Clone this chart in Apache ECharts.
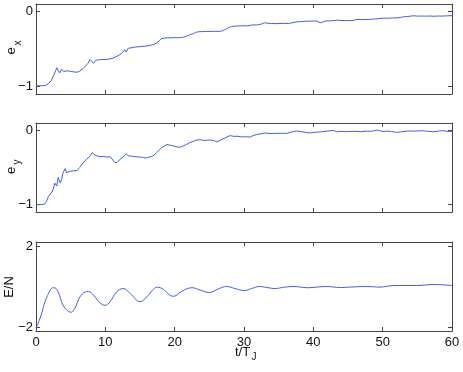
<!DOCTYPE html>
<html>
<head>
<meta charset="utf-8">
<script src="https://cdn.jsdelivr.net/npm/echarts@6/dist/echarts.min.js"></script>
<style>
  html, body { margin: 0; padding: 0; background: #fff; }
  #chart { width: 463px; height: 372px; }
</style>
</head>
<body>
<div id="chart"></div>
<script>
// ── data ──
const xTicks = [0, 10, 20, 30, 40, 50, 60];

const exT = [0, 0.5, 1, 1.4, 1.8, 2.2, 2.6, 3.0, 3.2, 3.4, 3.7, 4.0, 4.5, 5.0, 5.5, 5.9, 6.3, 6.8, 7.2, 7.5,
  7.8, 8.0, 8.3, 8.6, 9.0, 9.5, 10.0, 10.5, 11.0, 11.4, 11.8, 12.1, 12.5, 12.8, 13.0, 13.3, 13.7, 14.2, 14.8, 15.4,
  16.0, 16.5, 17.0, 17.4, 17.8, 18.1, 18.5, 19.0, 19.5, 20.0, 20.5, 21.0, 21.3, 21.7, 22.2, 22.7, 23.0, 23.4, 24.0, 24.6,
  25.2, 25.8, 26.4, 26.8, 27.2, 27.5, 27.9, 28.2, 28.7, 29.4, 30.0, 30.5, 30.9, 31.3, 31.8, 32.3, 32.7, 33.0, 33.5, 34.0,
  34.6, 35.2, 35.8, 36.4, 36.9, 37.6, 38.2, 38.8, 39.5, 40.0, 40.5, 41.0, 41.4, 41.7, 42.3, 43.0, 43.4, 44.0, 44.6, 45.2,
  45.7, 46.3, 47.0, 47.6, 48.2, 48.8, 49.4, 50.1, 50.7, 51.4, 52.1, 52.6, 53.0, 53.5, 54.0, 54.5, 55.0, 55.6, 56.2, 56.8,
  57.4, 58.0, 58.6, 59.2, 60.0];
const exV = [-0.99, -0.99, -0.99, -0.985, -0.96, -0.92, -0.84, -0.75, -0.77, -0.82, -0.77, -0.80, -0.79, -0.80, -0.805, -0.81, -0.795, -0.76, -0.72, -0.69,
  -0.64, -0.66, -0.69, -0.65, -0.645, -0.64, -0.64, -0.635, -0.625, -0.61, -0.59, -0.575, -0.545, -0.51, -0.54, -0.49, -0.485, -0.475, -0.47, -0.465,
  -0.46, -0.45, -0.44, -0.42, -0.39, -0.36, -0.355, -0.35, -0.352, -0.348, -0.35, -0.345, -0.34, -0.33, -0.31, -0.295, -0.28, -0.27, -0.268, -0.265,
  -0.266, -0.264, -0.265, -0.26, -0.245, -0.23, -0.21, -0.2, -0.195, -0.192, -0.19, -0.192, -0.185, -0.177, -0.18, -0.172, -0.16, -0.15, -0.158, -0.16,
  -0.162, -0.16, -0.158, -0.16, -0.152, -0.137, -0.135, -0.13, -0.128, -0.127, -0.128, -0.15, -0.14, -0.128, -0.125, -0.12, -0.115, -0.12, -0.12, -0.122,
  -0.12, -0.106, -0.108, -0.106, -0.105, -0.1, -0.095, -0.088, -0.09, -0.086, -0.085, -0.078, -0.07, -0.068, -0.062, -0.057, -0.062, -0.06, -0.062, -0.06,
  -0.063, -0.06, -0.061, -0.058, -0.055];

const eyT = [0, 0.6, 1.2, 1.5, 1.8, 2.0, 2.3, 2.5, 2.7, 3.0, 3.2, 3.5, 3.7, 3.9, 4.2, 4.4, 4.9, 5.4, 5.9, 6.3,
  6.8, 7.3, 7.8, 8.1, 8.5, 9.2, 9.7, 10.2, 10.7, 10.9, 11.4, 11.7, 12.0, 12.4, 13.0, 13.3, 13.8, 14.4, 15.0, 15.5,
  15.9, 16.3, 16.7, 17.0, 17.4, 17.8, 18.1, 18.5, 18.9, 19.1, 19.6, 20.2, 20.8, 21.2, 21.7, 22.2, 22.7, 23.2, 23.7, 24.1,
  24.6, 25.1, 25.6, 26.1, 26.7, 27.3, 28.0, 28.5, 29.0, 29.5, 29.9, 30.4, 30.9, 31.3, 31.8, 32.4, 33.0, 33.6, 34.2, 34.7,
  35.4, 36.2, 36.9, 37.6, 38.2, 38.8, 39.5, 40.2, 41.0, 41.8, 42.4, 42.9, 43.4, 44.0, 44.6, 45.3, 46.0, 46.8, 47.7, 48.4,
  49.2, 50.0, 50.6, 51.3, 52.0, 52.7, 53.4, 53.9, 54.6, 55.2, 55.8, 56.5, 57.3, 58.0, 58.7, 59.3, 60.0];
const eyV = [-1.0, -1.0, -0.995, -0.96, -0.89, -0.90, -0.83, -0.79, -0.71, -0.75, -0.635, -0.71, -0.66, -0.57, -0.515, -0.57, -0.55, -0.545, -0.54, -0.50,
  -0.435, -0.39, -0.347, -0.30, -0.333, -0.355, -0.35, -0.36, -0.355, -0.377, -0.435, -0.43, -0.40, -0.37, -0.315, -0.34, -0.347, -0.355, -0.36, -0.365,
  -0.373, -0.36, -0.35, -0.335, -0.30, -0.26, -0.235, -0.21, -0.19, -0.18, -0.205, -0.22, -0.227, -0.21, -0.19, -0.165, -0.147, -0.13, -0.124, -0.135,
  -0.133, -0.128, -0.135, -0.155, -0.125, -0.10, -0.07, -0.08, -0.078, -0.085, -0.088, -0.085, -0.09, -0.07, -0.057, -0.045, -0.035, -0.04, -0.042, -0.04,
  -0.038, -0.04, -0.02, -0.008, -0.015, -0.025, -0.035, -0.025, -0.02, -0.012, -0.005, 0.0, -0.02, -0.012, -0.018, -0.015, -0.012, -0.018, -0.01, -0.012,
  0.005, -0.015, -0.01, -0.015, -0.027, -0.018, -0.01, -0.008, -0.01, -0.006, -0.005, -0.012, -0.018, -0.01, -0.003, -0.012, -0.012];

const enT = [0, 0.33, 0.82, 1.3, 1.8, 2.2, 2.6, 3.2, 3.9, 4.7, 5.1, 5.6, 6.35, 7.1, 7.55, 8.3, 9.2, 9.95, 10.7, 11.6,
  12.6, 13.6, 15.0, 16.0, 16.9, 17.5, 18.4, 19.3, 19.9, 21.0, 22.5, 23.7, 25.0, 26.3, 27.5, 28.7, 30.05, 31.1, 32.2, 33.3,
  34.5, 35.7, 37.2, 39.1, 40.5, 41.9, 43.9, 45.3, 47.7, 49.6, 51.6, 54.9, 57.3, 60.0];
const enV = [-2.05, -1.8, -1.32, -0.75, -0.35, -0.1, -0.06, -0.27, -0.92, -1.24, -1.27, -1.08, -0.51, -0.27, -0.25, -0.43, -0.8, -0.93, -0.75, -0.27,
  -0.1, -0.35, -0.75, -0.51, -0.15, -0.03, -0.15, -0.43, -0.48, -0.24, -0.06, -0.18, -0.3, -0.12, 0.0, -0.1, -0.2, -0.1, 0.0, -0.05,
  -0.1, -0.04, 0.0, -0.06, -0.03, 0.0, -0.05, -0.03, 0.0, -0.03, 0.05, 0.05, 0.1, 0.05];

const eTicks = [-1, 0];
const enTicks = [-2, 2];

const pairs = (t, v) => t.map((x, i) => [x, v[i]]);

const chart = echarts.init(document.getElementById('chart'));

const FONT = '"Liberation Sans", Arial, Helvetica, sans-serif';
const AXIS_COLOR = '#444';
const LINE_COLOR = '#3a5cff';

// panel boxes, pixels
const grids = [
  { left: 36, top: 4, width: 416, height: 90 },
  { left: 36, top: 123, width: 416, height: 89 },
  { left: 36, top: 242, width: 416, height: 89 },
];

const xAxes = [];
const yAxes = [];
grids.forEach((g, i) => {
  ['bottom', 'top'].forEach(pos => {
    xAxes.push({
      type: 'value', gridIndex: i, position: pos, min: 0, max: 60, interval: 10,
      axisLine: { show: true, onZero: false, lineStyle: { color: AXIS_COLOR, width: 1 } },
      axisTick: { show: true, inside: true, length: 4, lineStyle: { color: AXIS_COLOR } },
      axisLabel: { show: i === 2 && pos === 'bottom', margin: 5, fontSize: 13, color: '#111', fontFamily: FONT },
      splitLine: { show: false },
    });
  });
  const lim = i === 2 ? [-2.2, 2.2] : [-1.1, 0.1];
  const ticks = i === 2 ? enTicks : eTicks;
  ['left', 'right'].forEach(pos => {
    yAxes.push({
      type: 'value', gridIndex: i, position: pos, min: lim[0], max: lim[1],
      axisLine: { show: true, onZero: false, lineStyle: { color: AXIS_COLOR, width: 1 } },
      axisTick: { show: true, inside: true, length: 4, customValues: ticks, lineStyle: { color: AXIS_COLOR } },
      axisLabel: {
        show: pos === 'left', customValues: ticks, margin: 3, fontSize: 13, color: '#111', fontFamily: FONT,
        formatter: v => (v < 0 ? '\u2212' + Math.abs(v) : String(v)),
      },
      splitLine: { show: false },
    });
  });
});

const seriesData = [pairs(exT, exV), pairs(eyT, eyV), pairs(enT, enV)];

const txt = (x, y, text, size) => ({
  type: 'text', x, y,
  style: { text, fontSize: size, fontFamily: FONT, fill: '#111', align: 'center', verticalAlign: 'middle' },
});

chart.setOption({
  animation: false,
  grid: grids,
  xAxis: xAxes,
  yAxis: yAxes,
  series: seriesData.map((d, i) => ({
    type: 'line', xAxisIndex: i * 2, yAxisIndex: i * 2,
    data: d, showSymbol: false, smooth: i === 2 ? 0.4 : false,
    lineStyle: { color: LINE_COLOR, width: 1 },
  })),
  graphic: [
    // e_x
    { type: 'group', x: 14, y: 47, rotation: Math.PI / 2, children: [txt(-4, -3, 'e', 13), txt(4, 4, 'x', 10)] },
    // e_y
    { type: 'group', x: 14, y: 166, rotation: Math.PI / 2, children: [txt(-4.5, -3, 'e', 13), txt(4, 3, 'y', 10)] },
    // E/N
    { type: 'group', x: 9, y: 287, rotation: Math.PI / 2, children: [txt(0, 0, 'E/N', 13)] },
    // t/T_J
    txt(242.5, 352, 't/T', 13),
    txt(254, 357.5, 'J', 10),
  ],
});
</script>
</body>
</html>
